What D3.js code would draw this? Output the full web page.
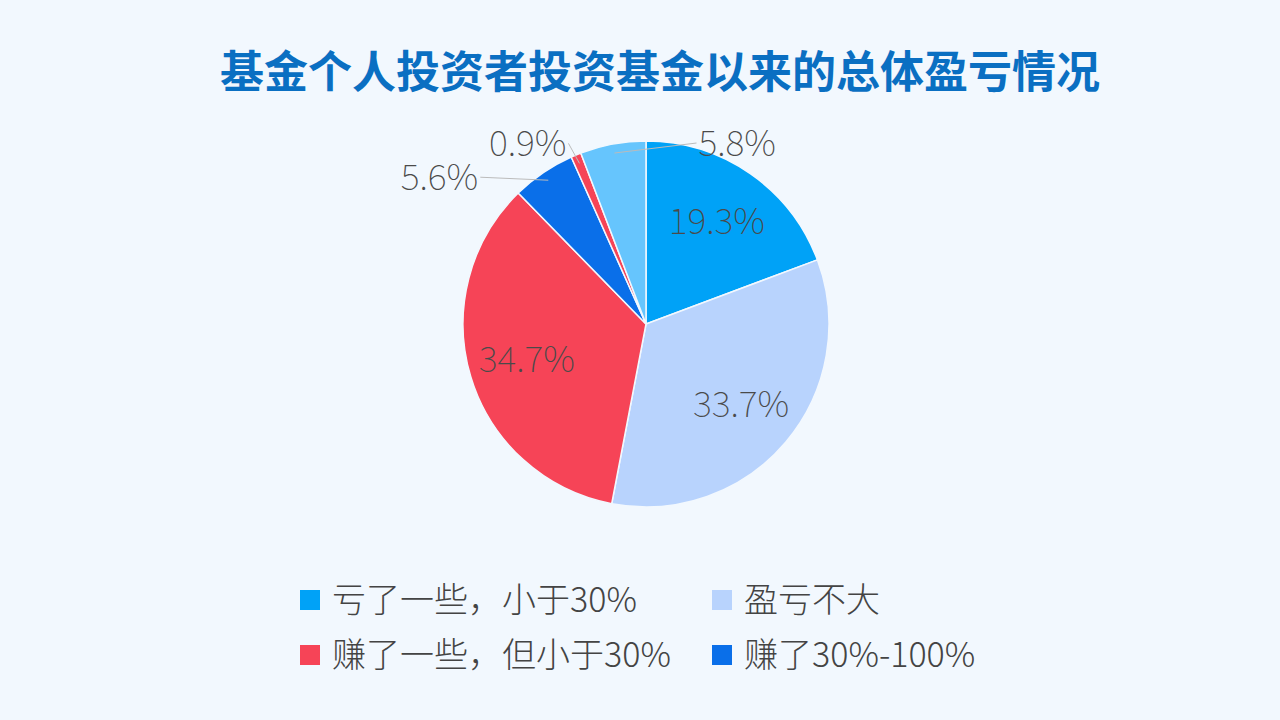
<!DOCTYPE html>
<html><head><meta charset="utf-8">
<script src="https://cdn.jsdelivr.net/npm/d3@7"></script>
<style>body{margin:0;background:#f2f8fe}svg{display:block}</style>
</head><body><svg id="c" width="1280" height="720"></svg>
<script>
/* DATA */
const categories = ["亏了一些，小于30%", "盈亏不大", "赚了一些，但小于30%", "赚了30%-100%", "赚了100%以上", "其他"];
const values = [19.3, 33.7, 34.7, 5.6, 0.9, 5.8];
const colors = ["#00a2f7", "#b8d3fd", "#f64457", "#0a6fe9", "#f64457", "#66c5fd"];
const legendCount = 4;
// outer labels: [index, dx, dy, anchor] relative to the arc edge point
const outerLabels = [[3, -68, -3, "end"], [4, -11, -20, "end"], [5, 82, -10, "start"]];

const svg = d3.select("#c");
const cx = 646, cy = 324, r = 183;

svg.append("text").attr("x", 660).attr("y", 88).attr("text-anchor", "middle")
  .attr("font-family", "Noto Sans CJK SC").attr("font-weight", "bold")
  .attr("font-size", 44).attr("fill", "#0a6fc2").text("基金个人投资者投资基金以来的总体盈亏情况");

const pie = d3.pie().sort(null).value(d => d);
const arcs = pie(values);
const arc = d3.arc().innerRadius(0).outerRadius(r);
const g = svg.append("g").attr("transform", `translate(${cx},${cy})`);

g.selectAll("path").data(arcs).join("path")
  .attr("d", arc).attr("fill", (d, i) => colors[i])
  .attr("stroke", "#f2f8fe").attr("stroke-width", 1.5);

const inner = d3.arc().innerRadius(r * 0.68).outerRadius(r * 0.68);
const font = "Noto Sans CJK SC";
g.selectAll("text.in").data(arcs.filter(d => d.data > 10)).join("text")
  .attr("class", "in")
  .attr("transform", d => `translate(${inner.centroid(d)})`)
  .attr("text-anchor", "middle").attr("dy", "0.35em")
  .attr("font-family", font).attr("font-weight", 100).attr("font-size", 36)
  .attr("fill", "#4a4a4a").text(d => d.data + "%");

const edge = d3.arc().innerRadius(r * 0.95).outerRadius(r * 0.95);
outerLabels.forEach(([i, dx, dy, anchor]) => {
  const [x, y] = edge.centroid(arcs[i]);
  g.append("line").attr("x1", x).attr("y1", y).attr("x2", x + dx).attr("y2", y + dy)
    .attr("stroke", "#bbb").attr("stroke-width", 1);
  g.append("text").attr("x", x + dx + (anchor === "end" ? -2 : 2)).attr("y", y + dy)
    .attr("text-anchor", anchor).attr("dy", "0.35em")
    .attr("font-family", font).attr("font-weight", 100).attr("font-size", 36)
    .attr("fill", "#4a4a4a").text(values[i] + "%");
});

const legend = svg.append("g");
const lx = [300, 712], ly = [600, 655];
categories.slice(0, legendCount).forEach((c, i) => {
  const x = lx[i % 2], y = ly[Math.floor(i / 2)];
  legend.append("rect").attr("x", x).attr("y", y - 10).attr("width", 20).attr("height", 20).attr("fill", colors[i]);
  legend.append("text").attr("x", x + 32).attr("y", y).attr("dy", "0.35em")
    .attr("font-family", font).attr("font-weight", 300).attr("font-size", 34).attr("fill", "#444").text(c);
});
</script></body></html>
